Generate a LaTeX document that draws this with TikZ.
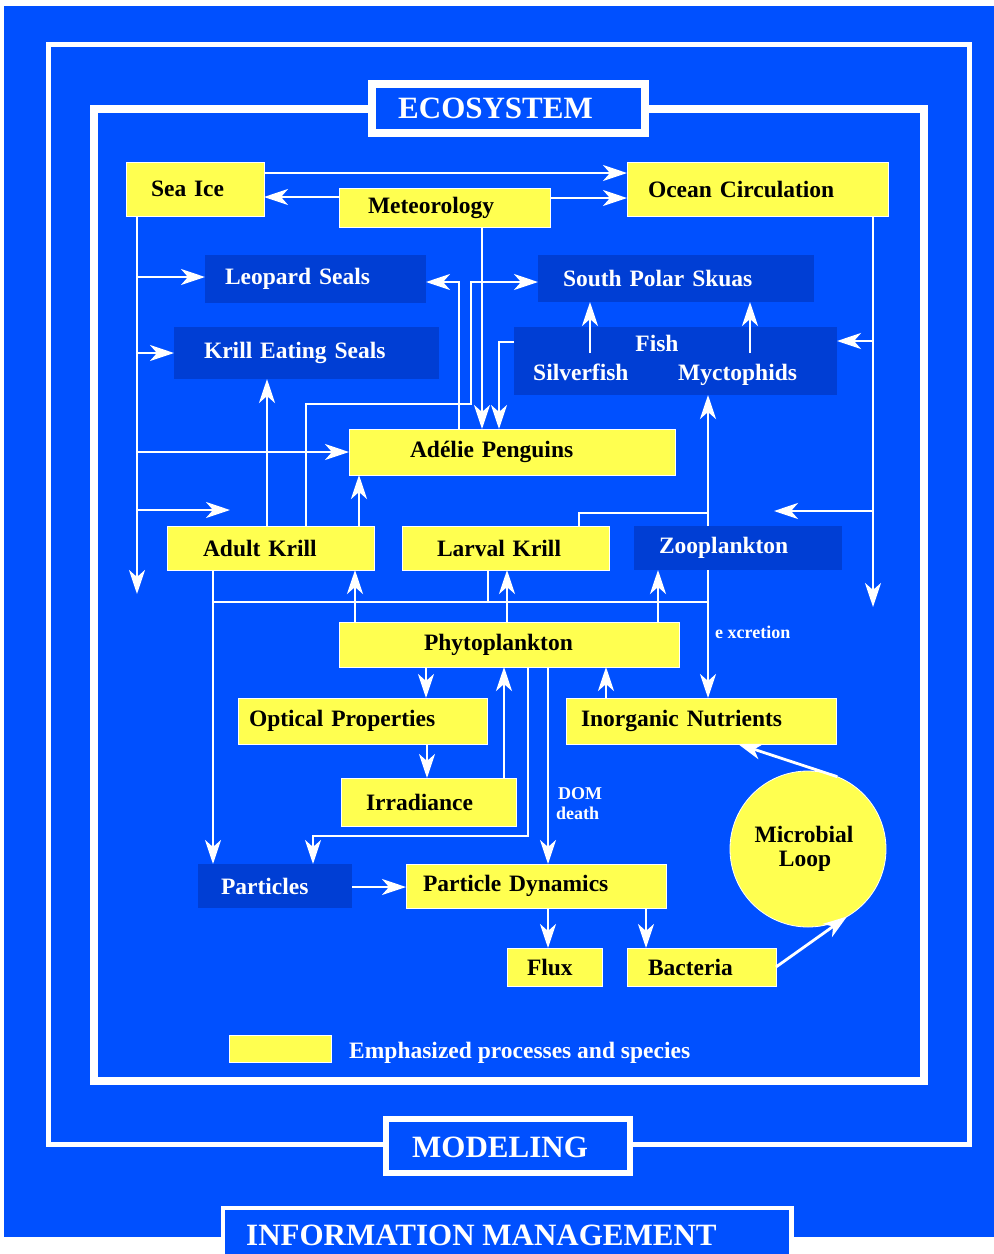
\documentclass[tikz,border=0pt]{standalone}
\usepackage{fontspec}
\setmainfont{Liberation Serif}
\usetikzlibrary{arrows.meta}
\definecolor{bgblue}{RGB}{0,80,255}
\definecolor{dkblue}{RGB}{0,62,212}
\definecolor{yel}{RGB}{255,255,80}
\newcommand\nodefnt{\bfseries\fontsize{23.5}{26}\selectfont}
\newcommand\titlefnt{\bfseries\fontsize{31}{34}\selectfont}
\newcommand\smallfnt{\bfseries\fontsize{18}{20}\selectfont}
\begin{document}
\begin{tikzpicture}[x=1pt,y=-1pt,
  ybox/.style={fill=yel, draw=white, line width=0.8pt, outer sep=0pt, inner ysep=0pt, align=left, text=black, font=\nodefnt},
  dbox/.style={fill=dkblue, outer sep=0pt, inner ysep=0pt, align=left, text=white, font=\nodefnt},
  wtext/.style={text=white, font=\nodefnt, inner sep=0pt},
  conn/.style={draw=white, line width=2.8pt},
  arr/.style={conn, -{Stealth[length=24pt,width=16pt,inset=7pt]}},
  lbl/.style={draw=white, fill=bgblue, outer sep=0pt, inner sep=0pt}]
\useasboundingbox (0,0) rectangle (994,1254);
\fill[white] (0,0) rectangle (994,1254);
\fill[bgblue] (4,6) rectangle (994,1237);
% frames
\draw[white, line width=5pt] (48.5,44.5) rectangle (969,1144.5);
\draw[white, line width=8pt] (94,109) rectangle (923.5,1080.5);
\node[lbl, line width=8pt, minimum width=273pt, minimum height=49pt] (EcoBox) at (508.5,108.5) {};
\node[wtext, font=\titlefnt, anchor=base west] (EcoT) at (398,118) {ECOSYSTEM};
\node[lbl, line width=6pt, minimum width=244pt, minimum height=54pt] (ModBox) at (508,1146) {};
\node[wtext, font=\titlefnt, anchor=base west] (ModT) at (412,1157) {MODELING};
\fill[white] (221,1206) rectangle (794,1254);
\fill[bgblue] (225,1210) rectangle (789,1254);
\node[wtext, font=\titlefnt, anchor=base west] (InfoT) at (246,1245) {INFORMATION MANAGEMENT};

% nodes
\node[ybox, minimum width=138pt, minimum height=54pt, inner xsep=25pt, text width=88pt] (SeaIce) at (195,189) {Sea Ice};
\node[ybox, minimum width=211pt, minimum height=39pt, inner xsep=29pt, text width=153pt] (Met) at (444.5,207.5) {Meteorology};
\node[ybox, minimum width=261pt, minimum height=54pt, inner xsep=21pt, text width=219pt] (Ocean) at (757.5,189) {Ocean Circulation};
\node[dbox, minimum width=221pt, minimum height=48pt, inner xsep=20pt, text width=181pt] (Leopard) at (315.5,279) {Leopard Seals};
\node[dbox, minimum width=276pt, minimum height=47pt, inner xsep=25pt, text width=226pt] (Skuas) at (676,278.5) {South Polar Skuas};
\node[dbox, minimum width=265pt, minimum height=52pt, inner xsep=30pt, text width=205pt] (KES) at (306.5,353) {Krill Eating Seals};
\node[dbox, minimum width=323pt, minimum height=68pt, inner sep=0pt] (Fish) at (675.5,361) {};
\node[wtext, anchor=base] (FishT) at (657,351) {Fish};
\node[wtext, anchor=base west] (SilvT) at (533,380) {Silverfish};
\node[wtext, anchor=base west] (MyctT) at (678,380) {Myctophids};
\node[ybox, minimum width=326pt, minimum height=46pt, inner xsep=61pt, text width=204pt] (Adelie) at (512,452) {Adélie Penguins};
\node[ybox, minimum width=207pt, minimum height=44pt, inner xsep=36pt, text width=135pt] (AKrill) at (270.5,548) {Adult Krill};
\node[ybox, minimum width=207pt, minimum height=44pt, inner xsep=35pt, text width=137pt] (LKrill) at (505.5,548) {Larval Krill};
\node[dbox, minimum width=208pt, minimum height=44pt, inner xsep=25pt, text width=158pt] (Zoo) at (738,548) {Zooplankton};
\node[ybox, minimum width=340pt, minimum height=45pt, inner xsep=85pt, text width=170pt] (Phyto) at (509,644.5) {Phytoplankton};
\node[ybox, minimum width=249pt, minimum height=46pt, inner xsep=11pt, text width=227pt] (Optical) at (362.5,721) {Optical Properties};
\node[ybox, minimum width=175pt, minimum height=48pt, inner xsep=25pt, text width=125pt] (Irr) at (428.5,802) {Irradiance};
\node[ybox, minimum width=270pt, minimum height=46pt, inner xsep=15pt, text width=240pt] (Nutr) at (701,721) {Inorganic Nutrients};
\node[dbox, minimum width=154pt, minimum height=44pt, inner xsep=23pt, text width=108pt] (Part) at (275,886) {Particles};
\node[ybox, minimum width=260pt, minimum height=44pt, inner xsep=17pt, text width=226pt] (PDyn) at (536,886) {Particle Dynamics};
\node[ybox, minimum width=95pt, minimum height=38pt, inner xsep=20pt, text width=55pt] (Flux) at (554.5,967) {Flux};
\node[ybox, minimum width=149pt, minimum height=38pt, inner xsep=21pt, text width=107pt] (Bact) at (701.5,967) {Bacteria};
\node[ybox, circle, minimum size=156pt, inner sep=0pt, align=center, font=\bfseries\fontsize{23.5}{24}\selectfont] (ML) at (808,849) {Microbial\kern8pt\\Loop\kern6pt};

% small labels
\node[wtext, font=\smallfnt, anchor=base west] (Excr) at (715,638) {e xcretion};
\node[wtext, font=\smallfnt, anchor=base west] (DOM) at (558,799) {DOM};
\node[wtext, font=\smallfnt, anchor=base west] (Death) at (556,819) {death};

% legend
\node[fill=yel, draw=white, line width=0.8pt, minimum width=102pt, minimum height=27pt, inner sep=0pt] (Legend) at (280,1048.5) {};
\node[wtext, anchor=base west] (LegendT) at (349,1058) {Emphasized processes and species};

% junction coordinates
\coordinate (sE) at (137,594);
\coordinate (s1) at (137,277);
\coordinate (s2) at (137,353);
\coordinate (s3) at (137,452);
\coordinate (s4) at (137,510);
\coordinate (s4e) at (230,510);
\coordinate (oE) at (873,607);
\coordinate (o1) at (873,341);
\coordinate (o2) at (873,511);
\coordinate (o2e) at (774,511);
\coordinate (k1) at (306,404);
\coordinate (k2) at (471,404);
\coordinate (k3) at (471,282);
\coordinate (jz) at (708,513);
\coordinate (busL) at (213,602);
\coordinate (busR) at (708,602);
\coordinate (lk) at (488,602);
\coordinate (pbend) at (313,836);
\coordinate (silv) at (590,353);
\coordinate (myct) at (750,353);

% connectors
\draw[arr] (SeaIce.east |- 0,173) -- (Ocean.west |- 0,173);
\draw[arr] (Met.west |- 0,197) -- (SeaIce.east |- 0,197);
\draw[arr] (Met.east |- 0,198) -- (Ocean.west |- 0,198);
\draw[arr] (Met.south -| 482,0) -- (Adelie.north -| 482,0);
\draw[arr] (SeaIce.south -| 137,0) -- (sE);
\draw[arr] (s1) -- (Leopard.west |- s1);
\draw[arr] (s2) -- (KES.west |- s2);
\draw[arr] (s3) -- (Adelie.west |- s3);
\draw[arr] (s4) -- (s4e);
\draw[arr] (Ocean.south -| 873,0) -- (oE);
\draw[arr] (o1) -- (Fish.east |- o1);
\draw[arr] (o2) -- (o2e);
\draw[arr] (Adelie.north -| 459,0) |- (Leopard.east |- 0,282);
\draw[arr] (AKrill.north -| k1) -- (k1) -- (k2) -- (k3) -- (Skuas.west |- k3);
\draw[arr] (Fish.west |- 0,342) -| (Adelie.north -| 499,0);
\draw[arr] (AKrill.north -| 267,0) -- (KES.south -| 267,0);
\draw[arr] (AKrill.north -| 359,0) -- (Adelie.south -| 359,0);
\draw[arr] (silv) -- (Skuas.south -| silv);
\draw[arr] (myct) -- (Skuas.south -| myct);
\draw[arr] (Zoo.north -| 708,0) -- (Fish.south -| 708,0);
\draw[conn] (LKrill.north -| 579,0) |- (jz);
\draw[conn] (busL) -- (busR);
\draw[arr] (AKrill.south -| busL) -- (Part.north -| busL);
\draw[conn] (LKrill.south -| lk) -- (lk);
\draw[arr] (Zoo.south -| busR) -- (Nutr.north -| busR);
\draw[arr] (Phyto.north -| 355,0) -- (AKrill.south -| 355,0);
\draw[arr] (Phyto.north -| 507,0) -- (LKrill.south -| 507,0);
\draw[arr] (Phyto.north -| 658,0) -- (Zoo.south -| 658,0);
\draw[arr] (Phyto.south -| 426,0) -- (Optical.north -| 426,0);
\draw[arr] (Irr.north -| 504,0) -- (Phyto.south -| 504,0);
\draw[arr] (Phyto.south -| 528,0) |- (pbend) -- (Part.north -| pbend);
\draw[arr] (Phyto.south -| 548,0) -- (PDyn.north -| 548,0);
\draw[arr] (Nutr.north -| 606,0) -- (Phyto.south -| 606,0);
\draw[arr] (Optical.south -| 427,0) -- (Irr.north -| 427,0);
\draw[arr] (Part.east |- 0,887) -- (PDyn.west |- 0,887);
\draw[arr] (PDyn.south -| 548,0) -- (Flux.north -| 548,0);
\draw[arr] (PDyn.south -| 646,0) -- (Bact.north -| 646,0);
\draw[arr] (Bact.east) -- (ML.-60);
\draw[arr] (ML.68) -- (Nutr.south -| 738,0);
\end{tikzpicture}
\end{document}
